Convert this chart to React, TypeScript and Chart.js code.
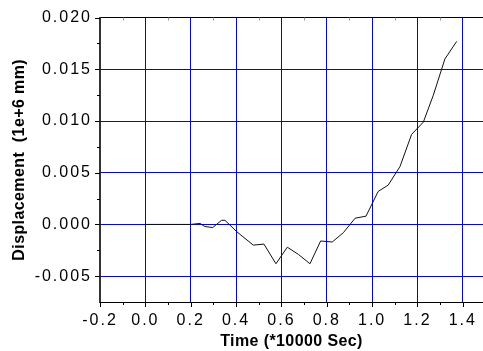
import { useEffect, useRef } from 'react';
import { Chart, registerables, LinearScale } from 'chart.js';

Chart.register(...registerables);

class SpacedLinearScale extends LinearScale {
  static id = 'spacedLinear';
  static defaults = LinearScale.defaults;
  drawLabels(area: any) {
    const ctx: any = this.ctx;
    ctx.save();
    ctx.letterSpacing = '2px';
    super.drawLabels(area);
    ctx.restore();
  }
  drawTitle() {
    const ctx: any = this.ctx;
    ctx.save();
    ctx.letterSpacing = '0.4px';
    super.drawTitle();
    ctx.restore();
  }
}
Chart.register(SpacedLinearScale as any);

// ---- data ----
const timeValues = [
  0.0, 0.2, 0.241, 0.262, 0.297, 0.336, 0.351, 0.403, 0.476, 0.523, 0.576, 0.626,
  0.675, 0.726, 0.773, 0.824, 0.873, 0.925, 0.973, 1.027, 1.071, 1.123, 1.174,
  1.226, 1.27, 1.321, 1.373,
];
const displacementValues = [
  0.0, 0.0, 0.0001, -0.0002, -0.0003, 0.0004, 0.0004, -0.0007, -0.002, -0.0019,
  -0.0038, -0.0022, -0.0029, -0.0038, -0.0016, -0.0017, -0.0008, 0.0006, 0.0008,
  0.0032, 0.0038, 0.0056, 0.0087, 0.0099, 0.0125, 0.016, 0.0177,
];
const xTickValues = [-0.2, 0.0, 0.2, 0.4, 0.6, 0.8, 1.0, 1.2, 1.4];
const xMinorTickValues = [-0.1, 0.1, 0.3, 0.5, 0.7, 0.9, 1.1, 1.3];
const yTickValues = [-0.005, 0.0, 0.005, 0.01, 0.015, 0.02];
const yMinorTickValues = [-0.0025, 0.0025, 0.0075, 0.0125, 0.0175];
const xMin = -0.2;
const xMax = 1.489;
const yMin = -0.0075;
const yMax = 0.02;
const xTitle = 'Time (*10000 Sec)';
const yTitle = 'Displacement  (1e+6 mm)';

const FONT = "'Liberation Sans', Arial, Helvetica, sans-serif";

const tickMarksPlugin = {
  id: 'tickMarks',
  afterDraw(chart: any) {
    const { ctx, chartArea } = chart;
    const xs = chart.scales.x;
    const ys = chart.scales.y;
    ctx.save();
    ctx.lineWidth = 1;
    ctx.strokeStyle = '#000';
    const L = chartArea.left;
    const B = chartArea.bottom;
    const T = chartArea.top;
    const line = (x1: number, y1: number, x2: number, y2: number) => {
      ctx.beginPath();
      ctx.moveTo(x1, y1);
      ctx.lineTo(x2, y2);
      ctx.stroke();
    };
    yTickValues.forEach((v) => {
      const p = Math.round(ys.getPixelForValue(v)) + 0.5;
      line(L - 5, p, L, p);
    });
    yMinorTickValues.forEach((v) => {
      const p = Math.round(ys.getPixelForValue(v)) + 0.5;
      line(L - 3, p, L, p);
    });
    xTickValues.forEach((v) => {
      const p = Math.round(xs.getPixelForValue(v)) + 0.5;
      line(p, B, p, B + 5);
    });
    xMinorTickValues.forEach((v) => {
      const p = Math.round(xs.getPixelForValue(v)) + 0.5;
      line(p, B, p, B + 3);
    });
    ctx.strokeStyle = '#999';
    xMinorTickValues.forEach((v) => {
      const p = Math.round(xs.getPixelForValue(v)) + 0.5;
      line(p, T, p, T + 3);
    });
    ctx.restore();
  },
};

export default function App() {
  const canvasRef = useRef<HTMLCanvasElement | null>(null);

  useEffect(() => {
    if (!canvasRef.current) return;
    const data = timeValues.map((t, i) => ({ x: t, y: displacementValues[i] }));
    const chart = new Chart(canvasRef.current, {
      type: 'line',
      data: {
        datasets: [
          {
            data,
            borderColor: '#111',
            borderWidth: 1,
            pointRadius: 0,
            tension: 0,
            fill: false,
          },
        ],
      },
      options: {
        animation: false,
        responsive: true,
        maintainAspectRatio: false,
        layout: { padding: { top: 17, right: 0, bottom: 0, left: 0 } },
        plugins: { legend: { display: false }, tooltip: { enabled: false } },
        scales: {
          x: {
            type: 'spacedLinear' as any,
            min: xMin,
            max: xMax,
            afterBuildTicks: (s: any) => {
              s.ticks = xTickValues.map((v) => ({ value: v }));
            },
            afterFit: (s: any) => {
              s.height = 49;
            },
            ticks: {
              padding: 9,
              color: '#000',
              font: { family: FONT, size: 16 },
              callback: (v: any) => Number(v).toFixed(1),
              maxRotation: 0,
              autoSkip: false,
            },
            grid: {
              color: 'rgb(0,0,255)',
              lineWidth: 1,
              drawTicks: false,
            },
            border: { color: '#000', width: 1 },
            title: {
              display: true,
              text: xTitle,
              color: '#000',
              font: { family: FONT, size: 16, weight: 'bold' },
              padding: { top: 0, bottom: 0 },
            },
          },
          y: {
            type: 'spacedLinear' as any,
            min: yMin,
            max: yMax,
            afterBuildTicks: (s: any) => {
              s.ticks = yTickValues.map((v) => ({ value: v }));
            },
            afterFit: (s: any) => {
              s.width = 100;
            },
            ticks: {
              padding: 8,
              color: '#000',
              font: { family: FONT, size: 16 },
              callback: (v: any) => Number(v).toFixed(3),
              autoSkip: false,
            },
            grid: {
              color: (c: any) =>
                c.tick && Math.abs(c.tick.value - yMax) < 1e-9 ? '#000' : 'rgb(0,0,255)',
              lineWidth: 1,
              drawTicks: false,
            },
            border: { color: '#333', width: 2 },
            title: {
              display: true,
              text: yTitle,
              color: '#000',
              font: { family: FONT, size: 16, weight: 'bold' },
              padding: { top: 10, bottom: 0 },
            },
          },
        },
      },
      plugins: [tickMarksPlugin],
    });
    return () => chart.destroy();
  }, []);

  return (
    <div style={{ position: 'fixed', left: 0, top: 0, width: 483, height: 351, background: '#fff' }}>
      <canvas ref={canvasRef} />
    </div>
  );
}
